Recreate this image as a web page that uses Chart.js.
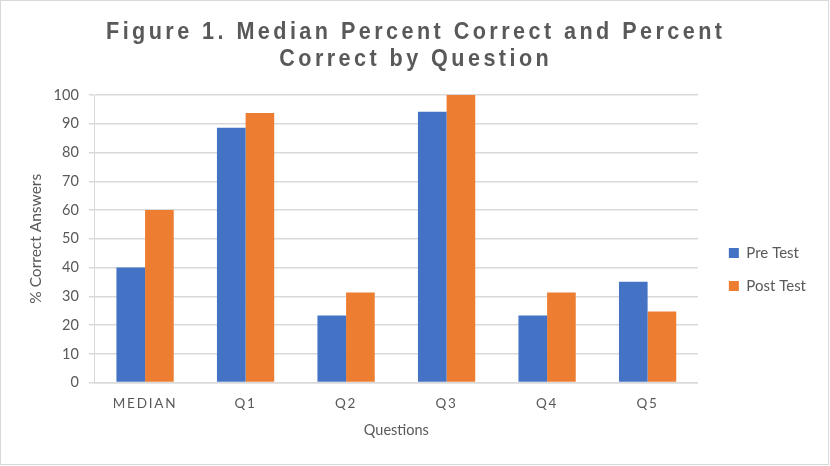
<!DOCTYPE html>
<html>
<head>
<meta charset="utf-8">
<script src="https://cdn.jsdelivr.net/npm/chart.js@4"></script>
<style>
  html, body { margin: 0; padding: 0; background: #ffffff; }
  #c { display: block; }
</style>
</head>
<body>
<canvas id="c" width="830" height="466"></canvas>
<script>
const titleLines = ["Figure 1. Median Percent Correct and Percent", "Correct by Question"];
const categories = ["MEDIAN", "Q1", "Q2", "Q3", "Q4", "Q5"];
const preTest = [40, 88.6, 23.3, 94.2, 23.3, 35.1];
const postTest = [60, 93.7, 31.3, 100, 31.3, 24.7];
const seriesNames = ["Pre Test", "Post Test"];
const xTitle = "Questions";
const yTitle = "% Correct Answers";

const textColor = "#595959";
const gridColor = "#d9d9d9";
const bodyFont = "Lato, 'Open Sans', sans-serif";

const decorPlugin = {
  id: "decor",
  beforeDraw(chart) {
    const ctx = chart.ctx;
    ctx.save();
    ctx.fillStyle = "#ffffff";
    ctx.fillRect(0, 0, chart.width, chart.height);
    ctx.strokeStyle = "#d9d9d9";
    ctx.lineWidth = 1;
    ctx.strokeRect(0.5, 0.5, chart.width - 2, chart.height - 2);
    ctx.restore();
    const xs = chart.scales.x;
    if (xs && !xs._spaced) {
      const orig = xs.drawLabels.bind(xs);
      xs.drawLabels = function (area) {
        ctx.save();
        ctx.letterSpacing = "1.8px";
        orig(area);
        ctx.restore();
      };
      xs._spaced = true;
    }
  },
  afterDraw(chart) {
    // Title: condensed bold with wide tracking
    const ctx = chart.ctx;
    const sx = 0.9;
    const targetW = 616;
    const cx = 414;
    ctx.save();
    ctx.fillStyle = textColor;
    ctx.font = "bold 24px 'Liberation Sans', Arial, sans-serif";
    ctx.textAlign = "left";
    ctx.textBaseline = "alphabetic";
    ctx.letterSpacing = "0px";
    const n0 = titleLines[0].length;
    const w0 = ctx.measureText(titleLines[0]).width;
    const ls = (targetW / sx - w0) / (n0 - 1);
    const baselines = [38.5, 66];
    titleLines.forEach((line, i) => {
      ctx.save();
      ctx.letterSpacing = "0px";
      const w = ctx.measureText(line).width + ls * (line.length - 1);
      ctx.letterSpacing = ls + "px";
      ctx.translate(cx - (w * sx) / 2, baselines[i]);
      ctx.scale(sx, 1);
      ctx.fillText(line, 0, 0);
      ctx.restore();
    });
    ctx.restore();
  }
};

new Chart(document.getElementById("c"), {
  type: "bar",
  data: {
    labels: categories,
    datasets: [
      { label: seriesNames[0], data: preTest, backgroundColor: "#4472C4", categoryPercentage: 0.57, barPercentage: 1 },
      { label: seriesNames[1], data: postTest, backgroundColor: "#ED7D31", categoryPercentage: 0.57, barPercentage: 1 }
    ]
  },
  options: {
    responsive: false,
    animation: false,
    devicePixelRatio: 1,
    layout: { padding: { top: 95, left: 27, right: 14, bottom: 22 } },
    plugins: {
      title: { display: false },
      tooltip: { enabled: false },
      legend: {
        position: "right",
        labels: {
          color: textColor,
          font: { family: bodyFont, size: 15 },
          boxWidth: 10,
          boxHeight: 10,
          padding: 18
        }
      }
    },
    scales: {
      x: {
        grid: { display: false },
        border: { display: true, color: gridColor, width: 1.5 },
        ticks: {
          color: textColor,
          font: { family: bodyFont, size: 13.5 },
          padding: 5
        },
        title: {
          display: true,
          text: xTitle,
          color: textColor,
          font: { family: bodyFont, size: 14.5 },
          padding: { top: 5, bottom: 4.8 }
        }
      },
      y: {
        min: 0,
        max: 100,
        ticks: {
          stepSize: 10,
          color: textColor,
          font: { family: bodyFont, size: 14.5 },
          padding: 10
        },
        grid: { color: gridColor, lineWidth: 1.5, drawTicks: true, tickLength: 6, tickColor: gridColor },
        border: { display: true, color: gridColor, width: 1 },
        title: {
          display: true,
          text: yTitle,
          color: textColor,
          font: { family: bodyFont, size: 15.5 },
          padding: { top: 0, bottom: -2 }
        }
      },
      spacer: {
        type: "linear",
        position: "right",
        display: true,
        grid: { display: false },
        border: { display: false },
        ticks: { display: false },
        afterFit(scale) { scale.width = 13; }
      }
    }
  },
  plugins: [decorPlugin]
});
</script>
</body>
</html>
